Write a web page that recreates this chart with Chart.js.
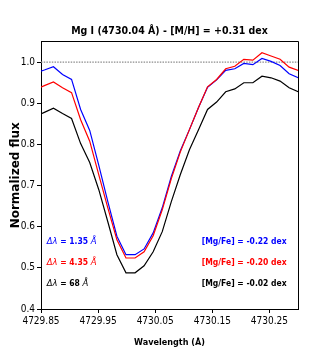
<!DOCTYPE html>
<html><head><meta charset="utf-8">
<script src="https://cdn.jsdelivr.net/npm/chart.js@4/dist/chart.umd.min.js"></script>
<style>html,body{margin:0;padding:0;background:#fff;} canvas{display:block;}</style>
</head><body>
<canvas id="c" width="332" height="354"></canvas>
<script>
// ---- data ----
const wavelengths = [4729.8400, 4729.8559, 4729.8718, 4729.8877, 4729.9035, 4729.9194, 4729.9353, 4729.9512, 4729.9670, 4729.9829,
  4729.9988, 4730.0147, 4730.0305, 4730.0464, 4730.0623, 4730.0782, 4730.0940, 4730.1099, 4730.1258, 4730.1416,
  4730.1575, 4730.1734, 4730.1893, 4730.2051, 4730.2210, 4730.2369, 4730.2528, 4730.2686, 4730.2845, 4730.3004];
const fluxBlue = [0.974, 0.981, 0.989, 0.970, 0.958, 0.885, 0.834, 0.749, 0.661, 0.577,
  0.532, 0.532, 0.546, 0.585, 0.646, 0.722, 0.785, 0.836, 0.890, 0.939,
  0.957, 0.980, 0.984, 0.997, 0.994, 1.009, 1.002, 0.992, 0.972, 0.962];
const fluxRed = [0.933, 0.943, 0.952, 0.938, 0.926, 0.860, 0.808, 0.726, 0.646, 0.568,
  0.524, 0.524, 0.539, 0.578, 0.641, 0.717, 0.782, 0.836, 0.890, 0.940,
  0.958, 0.984, 0.990, 1.007, 1.005, 1.023, 1.015, 1.007, 0.988, 0.980];
const fluxBlack = [0.868, 0.878, 0.888, 0.875, 0.863, 0.802, 0.756, 0.690, 0.612, 0.532,
  0.488, 0.488, 0.505, 0.539, 0.588, 0.661, 0.727, 0.787, 0.836, 0.885,
  0.903, 0.928, 0.935, 0.950, 0.950, 0.966, 0.962, 0.954, 0.938, 0.928];
const continuumLevel = [1.0];
const xTicks = [4729.85, 4729.95, 4730.05, 4730.15, 4730.25];
const yTicks = [0.4, 0.5, 0.6, 0.7, 0.8, 0.9, 1.0];
const xLimits = [4729.85, 4730.30];
const yLimits = [0.4, 1.05];
const deltaLambdaValues = ['1.35', '4.35', '68'];
const mgFeValues = ['-0.22', '-0.20', '-0.02'];
const seriesColors = ['#0000ff', '#ff0000', '#000000'];
const titleText = 'Mg I (4730.04 Å) - [M/H] = +0.31 dex';
const xTitle = 'Wavelength (Å)';
const yTitle = 'Normalized flux';

const COND = "'DejaVu Sans Condensed', 'Liberation Sans Narrow', 'DejaVu Sans', sans-serif";
const SANS = "'DejaVu Sans', sans-serif";

function toPoints(ys) { return wavelengths.map((w, i) => ({x: w, y: ys[i]})); }

function align(px) { return Math.round(px - 0.5) + 0.5; }

const framePlugin = {
  id: 'frame',
  afterDraw(chart) {
    const {ctx, chartArea: a} = chart;
    ctx.save();
    ctx.strokeStyle = '#000';
    ctx.lineWidth = 1;
    ctx.beginPath();
    ctx.moveTo(align(a.left), align(a.top));
    ctx.lineTo(align(a.right), align(a.top));
    ctx.lineTo(align(a.right), align(a.bottom));
    ctx.stroke();
    ctx.restore();
  }
};

const textPlugin = {
  id: 'labels',
  afterDraw(chart) {
    const {ctx, chartArea: a} = chart;
    const h = a.bottom - a.top, w = a.right - a.left;
    const rows = [0.749, 0.828, 0.906];
    ctx.save();
    ctx.textBaseline = 'middle';
    rows.forEach((fr, i) => {
      const y = a.top + fr * h;
      ctx.fillStyle = seriesColors[i];
      // left: Δλ = value Å
      let x = a.left + 0.022 * w;
      ctx.textAlign = 'left';
      ctx.font = 'italic 8.5px ' + SANS;
      ctx.fillText('Δλ', x, y);
      x += ctx.measureText('Δλ').width;
      ctx.font = 'bold 8.5px ' + COND;
      const mid = ' = ' + deltaLambdaValues[i] + ' ';
      ctx.fillText(mid, x, y);
      x += ctx.measureText(mid).width;
      ctx.font = 'italic 8.5px ' + SANS;
      ctx.fillText('Å', x, y);
      // right: [Mg/Fe]
      ctx.textAlign = 'right';
      ctx.font = 'bold 8.5px ' + COND;
      ctx.fillText('[Mg/Fe] = ' + mgFeValues[i] + ' dex', a.left + 0.956 * w, y);
    });
    ctx.restore();
  }
};

const lineDs = (label, ys, color) => ({
  label, data: toPoints(ys), borderColor: color, backgroundColor: color,
  borderWidth: 1.2, pointRadius: 0, tension: 0, fill: false
});

new Chart(document.getElementById('c'), {
  type: 'line',
  data: {
    datasets: [
      lineDs('Δλ = 4.35 Å', fluxRed, seriesColors[1]),
      lineDs('Δλ = 1.35 Å', fluxBlue, seriesColors[0]),
      lineDs('Δλ = 68 Å', fluxBlack, seriesColors[2]),
      {
        label: 'continuum', data: [{x: xLimits[0], y: continuumLevel[0]}, {x: xLimits[1], y: continuumLevel[0]}],
        borderColor: '#8c8c8c', borderWidth: 1.3, borderDash: [1.5, 1.2], pointRadius: 0, fill: false
      }
    ]
  },
  options: {
    responsive: false, animation: false, devicePixelRatio: 1,
    layout: {padding: {left: 0, right: 34, top: 0, bottom: 0}},
    plugins: {
      legend: {display: false}, tooltip: {enabled: false},
      title: {display: true, text: titleText, color: '#000', fullSize: false,
        font: {family: COND, weight: 'bold', size: 10.5, lineHeight: 1.2},
        padding: {top: 25, bottom: 4}}
    },
    scales: {
      x: {
        type: 'linear', min: xLimits[0], max: xLimits[1],
        afterBuildTicks: s => { s.ticks = xTicks.map(v => ({value: v})); },
        afterFit: s => { s.height = 45; },
        ticks: {color: '#000', font: {family: COND, size: 10}, padding: 2, maxRotation: 0,
          callback: v => Number(v).toFixed(2)},
        grid: {drawOnChartArea: false, drawTicks: true, tickLength: 4, color: '#000'},
        border: {display: true, color: '#000', width: 1},
        title: {display: true, text: xTitle, color: '#000',
          font: {family: COND, weight: 'bold', size: 9, lineHeight: 1.2}, padding: {top: 0, bottom: 6}}
      },
      y: {
        type: 'linear', min: yLimits[0], max: yLimits[1],
        afterBuildTicks: s => { s.ticks = yTicks.map(v => ({value: v})); },
        afterFit: s => { s.width = 41; },
        ticks: {color: '#000', font: {family: COND, size: 10}, padding: 2,
          callback: v => Number(v).toFixed(1)},
        grid: {drawOnChartArea: false, drawTicks: true, tickLength: 4, color: '#000'},
        border: {display: true, color: '#000', width: 1},
        title: {display: true, text: yTitle, color: '#000',
          font: {family: SANS, weight: 'bold', size: 12, lineHeight: 1.2}, padding: {top: 9, bottom: 0}}
      }
    }
  },
  plugins: [framePlugin, textPlugin]
});
</script>
</body></html>
